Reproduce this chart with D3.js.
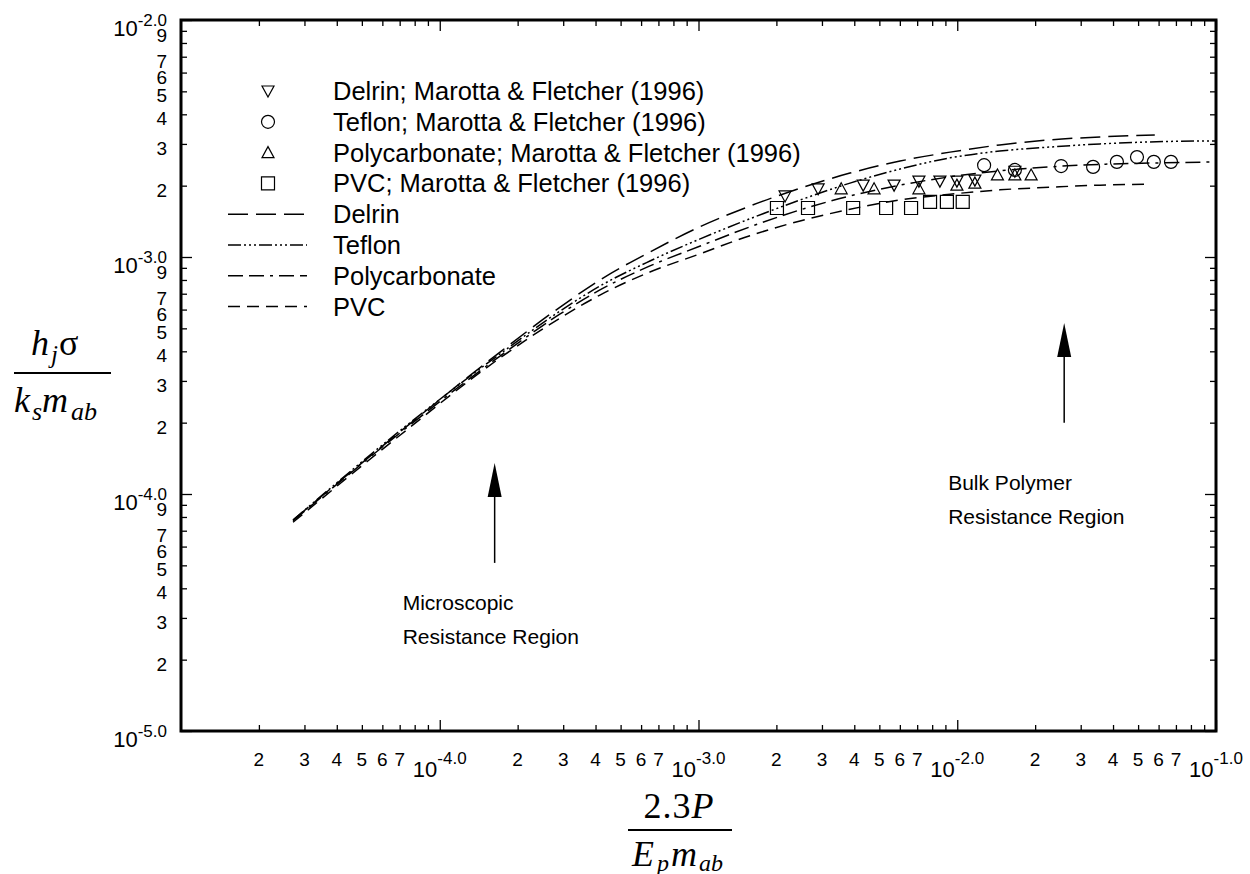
<!DOCTYPE html>
<html><head><meta charset="utf-8">
<script src="https://cdn.jsdelivr.net/npm/d3@7"></script>
<style>body{margin:0;background:#fff}</style>
</head><body><svg id="c" width="1250" height="874" xmlns="http://www.w3.org/2000/svg"></svg>
<script>
// ---------- data ----------
const xMajorTicks = [1e-4, 1e-3, 1e-2, 1e-1];
const xMajorLabels = ["-4.0", "-3.0", "-2.0", "-1.0"];
const yMajorTicks = [1e-5, 1e-4, 1e-3, 1e-2];
const yMajorLabels = ["-5.0", "-4.0", "-3.0", "-2.0"];
const minorDigits = [2, 3, 4, 5, 6, 7, 8, 9];
const xMinorLabelDigits = [2, 3, 4, 5, 6, 7];
const yMinorLabelDigits = [2, 3, 4, 5, 6, 7, 9];

const curveDelrin = [[2.71e-5,7.77e-5],[7.02e-5,1.83e-4],[1.71e-4,3.97e-4],[2.92e-4,6.15e-4],[4.16e-4,8.0e-4],[6.49e-4,1.05e-3],[1.01e-3,1.34e-3],[1.58e-3,1.64e-3],[2.47e-3,1.95e-3],[3.85e-3,2.26e-3],[6.01e-3,2.54e-3],[9.38e-3,2.77e-3],[1.46e-2,2.97e-3],[2.28e-2,3.12e-3],[3.56e-2,3.21e-3],[5.8e-2,3.27e-3]];
const curveTeflon = [[2.71e-5,7.77e-5],[7.02e-5,1.85e-4],[1.71e-4,3.90e-4],[2.92e-4,5.92e-4],[4.16e-4,7.54e-4],[6.49e-4,9.62e-4],[1.01e-3,1.19e-3],[1.58e-3,1.45e-3],[2.47e-3,1.74e-3],[3.85e-3,2.05e-3],[6.01e-3,2.35e-3],[9.38e-3,2.62e-3],[1.46e-2,2.80e-3],[2.28e-2,2.91e-3],[3.56e-2,3.00e-3],[5.56e-2,3.06e-3],[1e-1,3.09e-3]];
const curvePC = [[2.71e-5,7.70e-5],[7.02e-5,1.81e-4],[1.71e-4,3.82e-4],[2.92e-4,5.75e-4],[4.16e-4,7.26e-4],[6.49e-4,9.17e-4],[1.01e-3,1.11e-3],[1.58e-3,1.34e-3],[2.47e-3,1.58e-3],[3.85e-3,1.81e-3],[6.01e-3,2.01e-3],[9.38e-3,2.18e-3],[1.46e-2,2.31e-3],[2.28e-2,2.40e-3],[3.56e-2,2.46e-3],[5.56e-2,2.49e-3],[1e-1,2.52e-3]];
const curvePVC = [[2.71e-5,7.60e-5],[7.02e-5,1.77e-4],[1.71e-4,3.75e-4],[2.92e-4,5.53e-4],[4.16e-4,6.91e-4],[6.49e-4,8.64e-4],[1.01e-3,1.03e-3],[1.58e-3,1.23e-3],[2.47e-3,1.42e-3],[3.85e-3,1.59e-3],[6.01e-3,1.74e-3],[9.38e-3,1.84e-3],[1.46e-2,1.92e-3],[2.28e-2,1.97e-3],[3.56e-2,2.01e-3],[5.4e-2,2.03e-3]];

const dataDelrin = [[2.16e-3,1.81e-3],[2.90e-3,1.94e-3],[4.33e-3,2.01e-3],[5.70e-3,2.01e-3],[7.11e-3,2.09e-3],[8.57e-3,2.09e-3],[9.97e-3,2.09e-3],[1.17e-2,2.11e-3],[1.67e-2,2.30e-3]];
const dataTeflon = [[1.27e-2,2.44e-3],[1.67e-2,2.33e-3],[2.52e-2,2.42e-3],[3.35e-2,2.40e-3],[4.14e-2,2.52e-3],[4.95e-2,2.64e-3],[5.75e-2,2.52e-3],[6.70e-2,2.52e-3]];
const dataPC = [[3.56e-3,1.94e-3],[4.77e-3,1.94e-3],[7.11e-3,1.94e-3],[9.97e-3,2.01e-3],[1.17e-2,2.05e-3],[1.43e-2,2.22e-3],[1.67e-2,2.22e-3],[1.93e-2,2.22e-3]];
const dataPVC = [[2.01e-3,1.61e-3],[2.65e-3,1.61e-3],[3.96e-3,1.61e-3],[5.31e-3,1.61e-3],[6.63e-3,1.61e-3],[7.85e-3,1.71e-3],[9.12e-3,1.71e-3],[1.05e-2,1.71e-3]];

const legendMarkerLabels = ["Delrin; Marotta & Fletcher (1996)", "Teflon; Marotta & Fletcher (1996)", "Polycarbonate; Marotta & Fletcher (1996)", "PVC; Marotta & Fletcher (1996)"];
const legendLineLabels = ["Delrin", "Teflon", "Polycarbonate", "PVC"];
const annotMicro = {x: 1.63e-4, yTip: 1.35e-4, yBase: 5.12e-5, lines: ["Microscopic", "Resistance Region"]};
const annotBulk = {x: 2.59e-2, yTip: 5.27e-4, yBase: 2.0e-4, lines: ["Bulk Polymer", "Resistance Region"]};

// ---------- layout ----------
const L = 181, R = 1216, T = 20, B = 731;
const svg = d3.select("#c");
const xs = d3.scaleLog().domain([1e-5, 1e-1]).range([L, R]);
const ys = d3.scaleLog().domain([1e-5, 1e-2]).range([B, T]);
const SANS = "'Liberation Sans', Arial, sans-serif";
const SERIF = "'Liberation Serif', 'Times New Roman', serif";

function minorVals(lo, hi) {
  const out = [];
  for (let e = lo; e < hi; e++) minorDigits.forEach(d => out.push(d * Math.pow(10, e)));
  return out;
}
const lead = v => Math.round(v / Math.pow(10, Math.floor(Math.log10(v) + 1e-9)));
const xMinor = minorVals(-5, -1), yMinor = minorVals(-5, -2);

function styleAxis(g) {
  g.select(".domain").remove();
  g.selectAll(".tick line").attr("stroke", "#000").attr("stroke-width", 1.3);
  g.selectAll("text").remove();
}
svg.append("g").attr("transform", `translate(0,${B})`).call(d3.axisBottom(xs).tickValues(xMinor).tickSize(-6)).call(styleAxis);
svg.append("g").attr("transform", `translate(0,${B})`).call(d3.axisBottom(xs).tickValues(xMajorTicks).tickSize(-11)).call(styleAxis);
svg.append("g").attr("transform", `translate(0,${T})`).call(d3.axisTop(xs).tickValues(xMinor).tickSize(-6)).call(styleAxis);
svg.append("g").attr("transform", `translate(0,${T})`).call(d3.axisTop(xs).tickValues(xMajorTicks).tickSize(-11)).call(styleAxis);
svg.append("g").attr("transform", `translate(${L},0)`).call(d3.axisLeft(ys).tickValues(yMinor).tickSize(-6)).call(styleAxis);
svg.append("g").attr("transform", `translate(${L},0)`).call(d3.axisLeft(ys).tickValues(yMajorTicks).tickSize(-11)).call(styleAxis);
svg.append("g").attr("transform", `translate(${R},0)`).call(d3.axisRight(ys).tickValues(yMinor).tickSize(-6)).call(styleAxis);
svg.append("g").attr("transform", `translate(${R},0)`).call(d3.axisRight(ys).tickValues(yMajorTicks).tickSize(-11)).call(styleAxis);

svg.append("rect").attr("x", L).attr("y", T).attr("width", R - L).attr("height", B - T)
  .attr("fill", "none").attr("stroke", "#000").attr("stroke-width", 3);

// tick labels
const xLab = svg.append("g").attr("font-family", SANS).attr("fill", "#000");
xMinor.filter(v => xMinorLabelDigits.includes(lead(v))).forEach(v => {
  xLab.append("text").attr("x", xs(v)).attr("y", B + 35).attr("text-anchor", "middle").attr("font-size", 19).text(lead(v));
});
xMajorTicks.forEach((v, i) => {
  const t = xLab.append("text").attr("x", xs(v)).attr("y", B + 46).attr("text-anchor", "middle");
  t.append("tspan").attr("font-size", 22).text("10");
  t.append("tspan").attr("font-size", 17).attr("dy", -13).text(xMajorLabels[i]);
});
const yLab = svg.append("g").attr("font-family", SANS).attr("fill", "#000");
yMinor.filter(v => yMinorLabelDigits.includes(lead(v))).forEach(v => {
  yLab.append("text").attr("x", 167).attr("y", ys(v) + 11).attr("text-anchor", "end").attr("font-size", 19).text(lead(v));
});
yMajorTicks.forEach((v, i) => {
  const t = yLab.append("text").attr("x", 167).attr("y", ys(v) + 16).attr("text-anchor", "end");
  t.append("tspan").attr("font-size", 22).text("10");
  t.append("tspan").attr("font-size", 17).attr("dy", -10).text(yMajorLabels[i]);
});

// curves
const line = d3.line().x(d => xs(d[0])).y(d => ys(d[1])).curve(d3.curveMonotoneX);
const curves = [
  {data: curveDelrin, dash: "20,8"},
  {data: curveTeflon, dash: "13,3,2,3,2,3,2,3"},
  {data: curvePC, dash: "15,6,15,6,3,6"},
  {data: curvePVC, dash: "12,7"}
];
curves.forEach(c => {
  svg.append("path").datum(c.data).attr("d", line).attr("fill", "none")
    .attr("stroke", "#000").attr("stroke-width", 1.5).attr("stroke-dasharray", c.dash);
});

// markers
const shapes = {
  tdown: "M-6,-5L6,-5L0,6Z",
  tup: "M0,-6L6,5L-6,5Z",
  circ: d3.symbol().type(d3.symbolCircle).size(Math.PI * 6.5 * 6.5)(),
  sq: "M-6.5,-6.5H6.5V6.5H-6.5Z"
};
const markerSets = [
  {data: dataDelrin, shape: shapes.tdown},
  {data: dataTeflon, shape: shapes.circ},
  {data: dataPC, shape: shapes.tup},
  {data: dataPVC, shape: shapes.sq}
];
markerSets.forEach(m => {
  svg.append("g").selectAll("path").data(m.data).join("path")
    .attr("d", m.shape).attr("transform", d => `translate(${xs(d[0])},${ys(d[1])})`)
    .attr("fill", "none").attr("stroke", "#000").attr("stroke-width", 1.2);
});

// legend
const lg = svg.append("g").attr("font-family", SANS).attr("font-size", 25.5);
const rowY = i => 91 + i * 30.8;
markerSets.forEach((m, i) => {
  lg.append("path").attr("d", m.shape).attr("transform", `translate(268,${rowY(i)})`)
    .attr("fill", "none").attr("stroke", "#000").attr("stroke-width", 1.2);
  lg.append("text").attr("x", 333).attr("y", rowY(i) + 9).text(legendMarkerLabels[i]);
});
curves.forEach((c, i) => {
  const y = rowY(i + 4);
  lg.append("line").attr("x1", 228).attr("x2", 307).attr("y1", y).attr("y2", y)
    .attr("stroke", "#000").attr("stroke-width", 1.5).attr("stroke-dasharray", c.dash);
  lg.append("text").attr("x", 333).attr("y", y + 9).text(legendLineLabels[i]);
});

// annotations
function arrow(a, dxText, dyText) {
  const x = xs(a.x), yt = ys(a.yTip), yb = ys(a.yBase);
  svg.append("line").attr("x1", x).attr("x2", x).attr("y1", yb).attr("y2", yt + 30)
    .attr("stroke", "#000").attr("stroke-width", 1.5);
  svg.append("path").attr("d", `M${x},${yt}L${x + 7},${yt + 34}L${x - 7},${yt + 34}Z`).attr("fill", "#000");
  a.lines.forEach((s, i) => {
    svg.append("text").attr("x", x + dxText).attr("y", yb + dyText + i * 34.5)
      .attr("font-family", SANS).attr("font-size", 21).text(s);
  });
}
arrow(annotMicro, -92, 47);
arrow(annotBulk, -116, 67);

// axis titles
function fracLine(lineY, x1, x2) {
  svg.append("line").attr("x1", x1).attr("x2", x2).attr("y1", lineY).attr("y2", lineY)
    .attr("stroke", "#000").attr("stroke-width", 2);
}
// y title
let t = svg.append("text").attr("x", 31).attr("y", 355).attr("font-family", SERIF).attr("font-size", 36);
t.append("tspan").attr("font-style", "italic").text("h");
t.append("tspan").attr("font-style", "italic").attr("font-size", 25).attr("dy", 8).attr("dx", 2).text("j");
t.append("tspan").attr("dy", -8).attr("dx", 1).text("σ");
fracLine(373, 14, 111);
t = svg.append("text").attr("x", 14).attr("y", 412).attr("font-family", SERIF).attr("font-size", 36).attr("font-style", "italic");
t.append("tspan").text("k");
t.append("tspan").attr("font-size", 26).attr("dy", 8).attr("dx", 2).text("s");
t.append("tspan").attr("dy", -8).text("m");
t.append("tspan").attr("font-size", 26).attr("dy", 8).attr("dx", 3).text("ab");
// x title
t = svg.append("text").attr("x", 679).attr("y", 818).attr("font-family", SERIF).attr("font-size", 36).attr("text-anchor", "middle").attr("letter-spacing", 1);
t.append("tspan").text("2.3");
t.append("tspan").attr("font-style", "italic").text("P");
fracLine(830, 628, 732);
t = svg.append("text").attr("x", 632).attr("y", 866).attr("font-family", SERIF).attr("font-size", 36).attr("font-style", "italic");
t.append("tspan").text("E");
t.append("tspan").attr("font-size", 24).attr("dy", 5).attr("dx", 3).text("p");
t.append("tspan").attr("dy", -5).attr("dx", 2).text("m");
t.append("tspan").attr("font-size", 24).attr("dy", 5).attr("dx", 2).text("ab");
</script></body></html>
